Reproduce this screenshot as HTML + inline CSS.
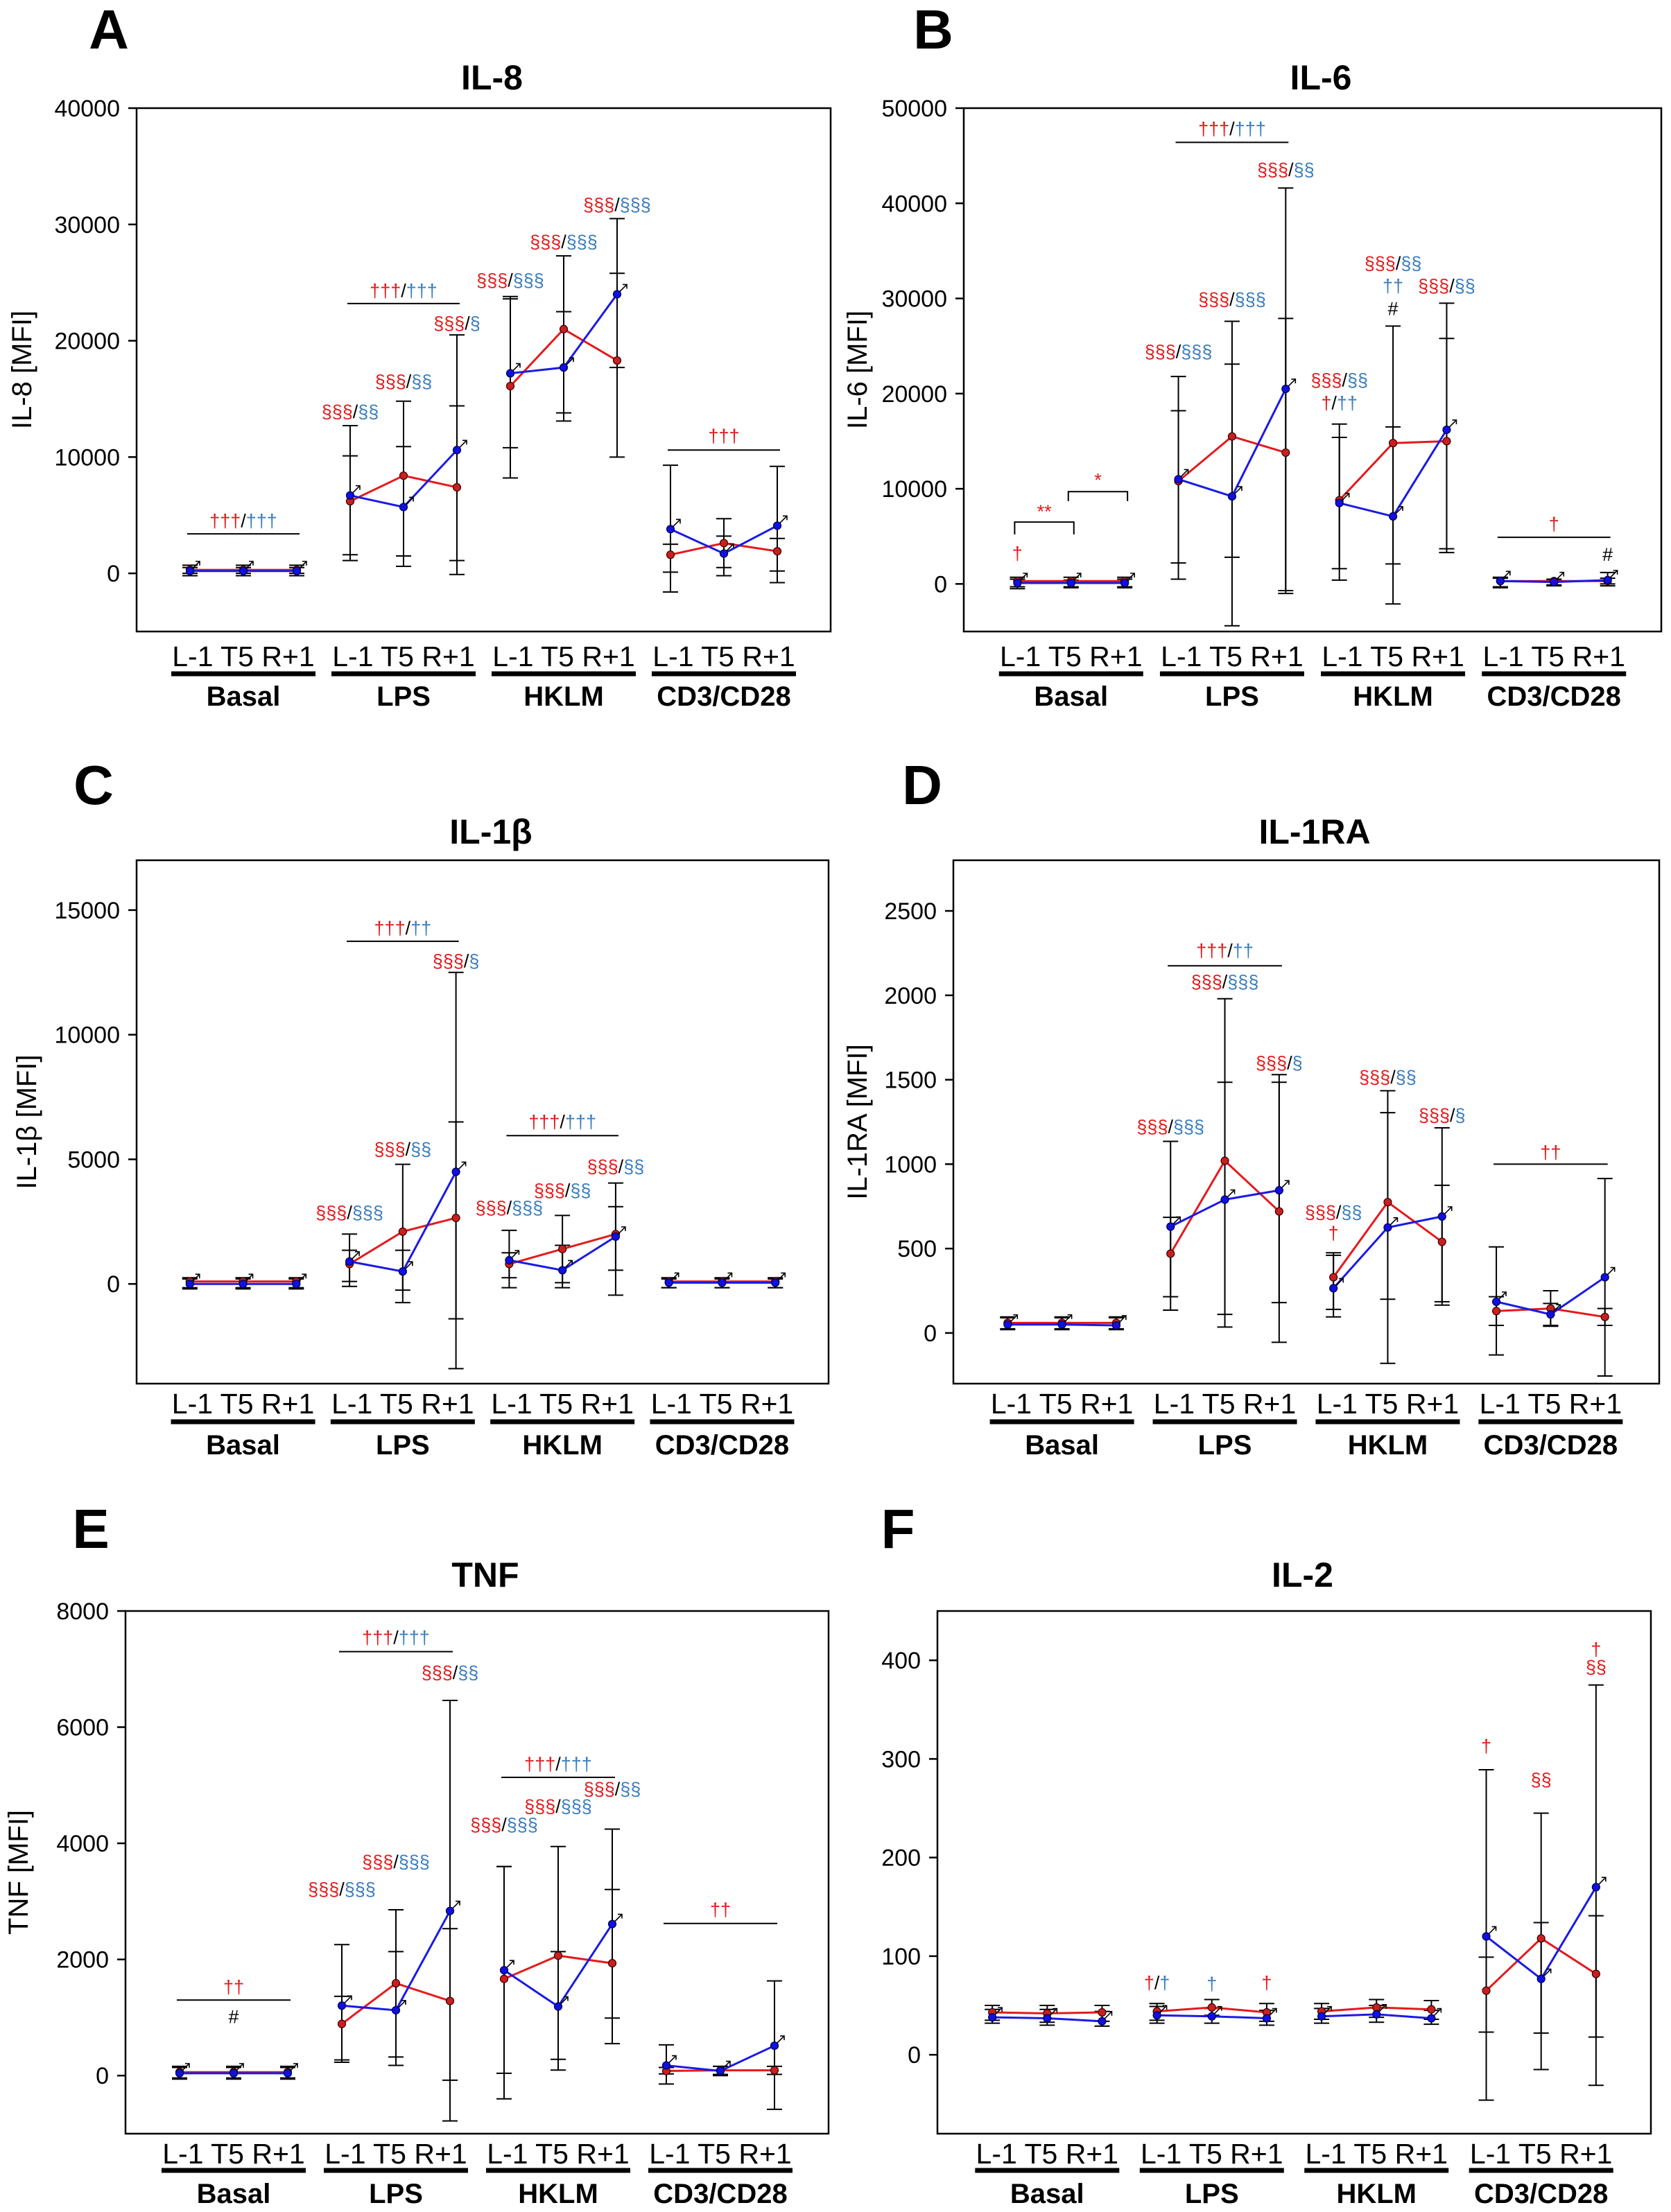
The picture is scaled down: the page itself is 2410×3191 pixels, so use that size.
<!DOCTYPE html>
<html><head><meta charset="utf-8">
<style>
html,body{margin:0;padding:0;background:#fff;}
svg{display:block;font-family:"Liberation Sans",Arial,sans-serif;}
</style></head>
<body>
<svg id="fig" xmlns="http://www.w3.org/2000/svg" width="2410" height="3191" viewBox="0 0 2410 3191">
<rect x="0" y="0" width="2410" height="3191" fill="#fff"/>
</svg>
<script>
// ---------- shared categories ----------
const timepoints = ["L-1", "T5", "R+1"];
const groups = ["Basal", "LPS", "HKLM", "CD3/CD28"];

// ---------- Panel A: IL-8 ----------
const aTicks = [0, 10000, 20000, 30000, 40000];
const aRed = [300, 300, 300, 6200, 8400, 7400, 16100, 21000, 18300, 1600, 2600, 1900];
const aBlue = [200, 200, 200, 6700, 5700, 10600, 17200, 17700, 24000, 3800, 1700, 4100];
const aRedLo = [0, 0, 0, 1600, 1500, -100, 8200, 13800, 10000, 100, 500, 200];
const aRedHi = [700, 700, 700, 10100, 14800, 14400, 23800, 27300, 25800, 2500, 4700, 3000];
const aBlueLo = [-200, -200, -200, 1100, 600, 1100, 10800, 13100, 17700, -1600, -200, -800];
const aBlueHi = [500, 500, 500, 12700, 10900, 20500, 23600, 22500, 30500, 9300, 3200, 9200];

// ---------- Panel B: IL-6 ----------
const bTicks = [0, 10000, 20000, 30000, 40000, 50000];
const bRed = [300, 300, 300, 10800, 15500, 13800, 8800, 14800, 15000, 300, 300, 300];
const bBlue = [100, 100, 100, 11000, 9200, 20500, 8500, 7100, 16200, 300, 200, 400];
const bRedLo = [-300, -300, -300, 500, 2800, -700, 400, 2100, 3700, -300, -100, -200];
const bRedHi = [700, 700, 700, 21800, 27600, 27900, 16800, 27100, 25800, 600, 500, 600];
const bBlueLo = [-500, -400, -400, 2200, -4400, -1000, 1600, -2100, 3300, -400, -200, 0];
const bBlueHi = [500, 400, 500, 18200, 23100, 41600, 15400, 16500, 29500, 700, 400, 1200];

// ---------- Panel C: IL-1beta ----------
const cTicks = [0, 5000, 10000, 15000];
const cRed = [100, 100, 100, 800, 2100, 2650, 800, 1400, 2000, 100, 100, 100];
const cBlue = [0, 0, 0, 900, 500, 4500, 950, 550, 1900, 50, 50, 50];
const cRedLo = [-150, -150, -150, -100, -750, -1400, -150, 50, -450, -150, -150, -150];
const cRedHi = [250, 250, 250, 2000, 4800, 6500, 2150, 2750, 4050, 250, 250, 250];
const cBlueLo = [-200, -200, -200, 100, -250, -3400, 250, -150, 550, -150, -150, -150];
const cBlueHi = [200, 200, 200, 1350, 1350, 12500, 1250, 1550, 3100, 200, 200, 200];

// ---------- Panel D: IL-1RA ----------
const dTicks = [0, 500, 1000, 1500, 2000, 2500];
const dRed = [60, 60, 60, 470, 1020, 720, 330, 775, 540, 130, 145, 95];
const dBlue = [50, 50, 45, 630, 790, 845, 265, 625, 690, 185, 110, 330];
const dRedLo = [25, 25, 25, 215, 35, -55, 140, 200, 185, 45, 40, 45];
const dRedHi = [95, 95, 95, 685, 1980, 1485, 475, 1305, 875, 215, 250, 145];
const dBlueLo = [20, 20, 20, 135, 110, 180, 95, -180, 165, -130, 45, -255];
const dBlueHi = [90, 90, 90, 1135, 1485, 1530, 460, 1435, 1215, 510, 175, 915];

// ---------- Panel E: TNF ----------
const eTicks = [0, 2000, 4000, 6000, 8000];
const eRed = [60, 60, 60, 890, 1590, 1285, 1665, 2065, 1935, 80, 90, 90];
const eBlue = [40, 40, 40, 1205, 1125, 2835, 1815, 1190, 2610, 175, 80, 515];
const eRedLo = [-40, -40, -40, 270, 320, -80, -400, 95, 550, 30, 20, 20];
const eRedHi = [160, 160, 160, 1365, 2855, 2530, 3600, 3945, 3205, 140, 160, 160];
const eBlueLo = [-60, -60, -60, 230, 175, -780, 40, 280, 990, -145, 0, -580];
const eBlueHi = [140, 140, 140, 2255, 2135, 6460, 3600, 2135, 4245, 530, 160, 1630];

// ---------- Panel F: IL-2 ----------
const fTicks = [0, 100, 200, 300, 400];
const fRed = [43, 42, 43, 44, 48, 43, 44, 48, 46, 65, 118, 82];
const fBlue = [38, 37, 34, 40, 39, 37, 39, 41, 37, 120, 77, 170];
const fRedLo = [35, 33, 34, 35, 40, 34, 36, 38, 36, 23, -15, 18];
const fRedHi = [50, 50, 50, 52, 56, 52, 52, 56, 55, 99, 245, 141];
const fBlueLo = [32, 30, 29, 32, 32, 30, 32, 33, 31, -46, 22, -31];
const fBlueHi = [46, 46, 44, 49, 47, 45, 47, 50, 45, 289, 134, 375];

// ---------- Annotations: [pointIndex, value, text parts "r:..|b:..|k:.."] ----------
const aNotes = [[4, 24300, "r:†††|k:/|b:†††"], [1, 4500, "r:†††|k:/|b:†††"], [3, 13900, "r:§§§|k:/|b:§§"], [4, 16500, "r:§§§|k:/|b:§§"], [5, 21500, "r:§§§|k:/|b:§"], [6, 25200, "r:§§§|k:/|b:§§§"], [7, 28500, "r:§§§|k:/|b:§§§"], [8, 31700, "r:§§§|k:/|b:§§§"], [10, 11800, "r:†††"]];
const aLines = [[0, 2, 3400], [3, 5, 23200], [9, 11, 10600]];
const bNotes = [[0, 3200, "r:†"], [0.5, 7600, "r:**"], [1.5, 10900, "r:*"], [4, 47800, "r:†††|k:/|b:†††"], [3, 24400, "r:§§§|k:/|b:§§§"], [4, 29900, "r:§§§|k:/|b:§§§"], [5, 43500, "r:§§§|k:/|b:§§"], [6, 21400, "r:§§§|k:/|b:§§"], [6, 19000, "r:†|k:/|b:††"], [7, 33700, "r:§§§|k:/|b:§§"], [7, 31300, "b:††"], [7, 28900, "k:#"], [8, 31300, "r:§§§|k:/|b:§§"], [10, 6300, "r:†"], [11, 3100, "k:#"]];
const bLines = [[3, 5, 46400], [9, 11, 4900]];
const bBrackets = [[0, 1, 6500, 5200], [1, 2, 9700, 8700]];
const cNotes = [[4, 14270, "r:†††|k:/|b:††"], [3, 2850, "r:§§§|k:/|b:§§§"], [4, 5400, "r:§§§|k:/|b:§§"], [5, 12950, "r:§§§|k:/|b:§"], [7, 6500, "r:†††|k:/|b:†††"], [6, 3050, "r:§§§|k:/|b:§§§"], [7, 3750, "r:§§§|k:/|b:§§"], [8, 4700, "r:§§§|k:/|b:§§"]];
const cLines = [[3, 5, 13750], [6, 8, 5950]];
const dNotes = [[4, 2265, "r:†††|k:/|b:††"], [4, 2080, "r:§§§|k:/|b:§§§"], [3, 1222, "r:§§§|k:/|b:§§§"], [5, 1600, "r:§§§|k:/|b:§"], [6, 715, "r:§§§|k:/|b:§§"], [6, 590, "r:†"], [7, 1515, "r:§§§|k:/|b:§§"], [8, 1290, "r:§§§|k:/|b:§"], [10, 1070, "r:††"]];
const dLines = [[3, 5, 2175], [9, 11, 1000]];
const eNotes = [[1, 1525, "r:††"], [1, 1010, "k:#"], [4, 7540, "r:†††|k:/|b:†††"], [3, 3210, "r:§§§|k:/|b:§§§"], [4, 3680, "r:§§§|k:/|b:§§§"], [5, 6935, "r:§§§|k:/|b:§§"], [7, 5360, "r:†††|k:/|b:†††"], [6, 4320, "r:§§§|k:/|b:§§§"], [7, 4635, "r:§§§|k:/|b:§§§"], [8, 4935, "r:§§§|k:/|b:§§"], [10, 2855, "r:††"]];
const eLines = [[0, 2, 1300], [3, 5, 7300], [6, 8, 5135], [9, 11, 2620]];
const fNotes = [[3, 73, "r:†|k:/|b:†"], [4, 72, "b:†"], [5, 73, "r:†"], [9, 313, "r:†"], [10, 279, "r:§§"], [11, 411, "r:†"], [11, 393, "r:§§"]];
const fLines = [];

const NS = "http://www.w3.org/2000/svg";
const svg = document.getElementById("fig");
const RED = "#e41a1c", BLUE = "#1a1ae6", TBLUE = "#3b7dbd";

function mk(tag, attrs, parent) {
  const e = document.createElementNS(NS, tag);
  for (const k in attrs) e.setAttribute(k, attrs[k]);
  (parent || svg).appendChild(e);
  return e;
}

function panel(cfg) {
  const g = mk("g", {});
  
  
  const L = cfg.box[0], R = cfg.box[1], T = cfg.box[2], B = cfg.box[3];
  const yS = v => B - (v - cfg.ymin) / (cfg.ymax - cfg.ymin) * (B - T);
  const step = (R - L) / 13;
  const xS = i => L + (i + 1) * step;

  // letter
  const let_ = mk("text", {x: cfg.letter[0], y: cfg.letter[1], "font-size": 80, "font-weight": "bold", "text-anchor": "middle"}, g);
  let_.textContent = cfg.letterText;
  
  
  // title
  const ti = mk("text", {x: (L + R) / 2 + 12, y: cfg.titleY, "font-size": 50, "font-weight": "bold", "text-anchor": "middle"}, g);
  ti.textContent = cfg.title;
  
  
  // box
  const bx = mk("rect", {x: L, y: T, width: R - L, height: B - T, fill: "none", stroke: "#000", "stroke-width": 2.5}, g);
  
  
  // y ticks
  cfg.ticks.forEach(t => {
    const y = yS(t);
    const tk = mk("line", {x1: L - 12, x2: L, y1: y, y2: y, stroke: "#000", "stroke-width": 2.5}, g);
    
    
    const tl = mk("text", {x: L - 24, y: y + 12, "font-size": 34, "text-anchor": "end"}, g);
    tl.textContent = String(t);
    
    
  });
  // y title
  if (cfg.ylabel) {
    const cy = (T + B) / 2;
    const yt = mk("text", {x: cfg.ylabelX, y: cy, "font-size": 40, "text-anchor": "middle", transform: `rotate(-90 ${cfg.ylabelX} ${cy})`}, g);
    yt.textContent = cfg.ylabel;
    
    
  }
  // x labels
  groups.forEach((gn, gi) => {
    const cx = xS(gi * 3 + 1);
    const tl = mk("text", {x: cx, y: cfg.xlab[0], "font-size": 41, "text-anchor": "middle"}, g);
    tl.textContent = timepoints.join(" ");
    
    
    const ul = mk("rect", {x: cx - 104, y: cfg.xlab[1] - 3.5, width: 208, height: 7, fill: "#000"}, g);
    
    
    const gl = mk("text", {x: cx, y: cfg.xlab[2], "font-size": 40, "font-weight": "bold", "text-anchor": "middle"}, g);
    gl.textContent = gn;
    
    
  });
  // error bars
  function bars(lo, hi, name) {
    lo.forEach((v, i) => {
      const x = xS(i), y1 = yS(lo[i]), y2 = yS(hi[i]);
      const e = mk("path", {d: `M${x},${y1}V${y2}M${x - 11},${y1}H${x + 11}M${x - 11},${y2}H${x + 11}`, stroke: "#000", "stroke-width": 2, fill: "none"}, g);
      
      
    });
  }
  bars(cfg.redLo, cfg.redHi, 'red-error-bar');
  bars(cfg.blueLo, cfg.blueHi, 'blue-error-bar');
  // lines
  function series(vals, color, name) {
    for (let gi = 0; gi < 4; gi++) {
      const pts = [0, 1, 2].map(k => `${xS(gi * 3 + k)},${yS(vals[gi * 3 + k])}`).join(" ");
      const pl = mk("polyline", {points: pts, fill: "none", stroke: color, "stroke-width": 3}, g);
      
      
    }
  }
  series(cfg.red, RED, 'red-series');
  series(cfg.blue, BLUE, 'blue-series');
  cfg.red.forEach((v, i) => {
    const c = mk("circle", {cx: xS(i), cy: yS(v), r: 5.5, fill: "#c8201f", stroke: "#3a0000", "stroke-width": 1.2}, g);
    
    
  });
  cfg.blue.forEach((v, i) => {
    const x = xS(i), y = yS(v);
    const c = mk("circle", {cx: x, cy: y, r: 5.5, fill: "#1010e0", stroke: "#000050", "stroke-width": 1.2}, g);
    
    
    const ar = mk("path", {d: `M${x + 4},${y - 4}L${x + 14},${y - 14}M${x + 8},${y - 14}H${x + 14}V${y - 8}`, stroke: "#000", "stroke-width": 1.6, fill: "none"}, g);
    
    
  });
  // significance lines
  cfg.lines.forEach(l => {
    const ln = mk("line", {x1: xS(l[0]) - 4, x2: xS(l[1]) + 4, y1: yS(l[2]), y2: yS(l[2]), stroke: "#000", "stroke-width": 2}, g);
    
    
  });
  (cfg.brackets || []).forEach(b => {
    const x1 = xS(b[0]) - 4, x2 = xS(b[1]) + 4, y = yS(b[2]), y2 = yS(b[3]);
    const br = mk("path", {d: `M${x1},${y2}V${y}H${x2}V${y2}`, stroke: "#000", "stroke-width": 2, fill: "none"}, g);
    
    
  });
  // notes
  cfg.notes.forEach(n => {
    const t = mk("text", {x: xS(n[0]), y: yS(n[1]) + 9, "font-size": 27, "text-anchor": "middle"}, g);
    
    
    n[2].split("|").forEach(p => {
      const [c, s] = [p[0], p.slice(2)];
      const ts = mk("tspan", {fill: c === "r" ? RED : c === "b" ? TBLUE : "#000"}, t);
      ts.textContent = s;
    });
  });
}

panel({id: "il8", letterText: "A", title: "IL-8", box: [197, 1198, 156, 911], ymin: -5000, ymax: 40000, ticks: aTicks,
  red: aRed, blue: aBlue, redLo: aRedLo, redHi: aRedHi, blueLo: aBlueLo, blueHi: aBlueHi,
  notes: aNotes, lines: aLines, letter: [157, 70], titleY: 129, ylabel: "IL-8 [MFI]", ylabelX: 45, xlab: [961, 972, 1018]});
panel({id: "il6", letterText: "B", title: "IL-6", box: [1390, 2396, 156, 911], ymin: -5000, ymax: 50000, ticks: bTicks,
  red: bRed, blue: bBlue, redLo: bRedLo, redHi: bRedHi, blueLo: bBlueLo, blueHi: bBlueHi,
  notes: bNotes, lines: bLines, brackets: bBrackets, letter: [1346, 70], titleY: 129, ylabel: "IL-6 [MFI]", ylabelX: 1250, xlab: [961, 972, 1018]});
panel({id: "il1b", letterText: "C", title: "IL-1β", box: [197, 1195, 1241, 1996], ymin: -4000, ymax: 17000, ticks: cTicks,
  red: cRed, blue: cBlue, redLo: cRedLo, redHi: cRedHi, blueLo: cBlueLo, blueHi: cBlueHi,
  notes: cNotes, lines: cLines, letter: [135, 1160], titleY: 1217, ylabel: "IL-1β [MFI]", ylabelX: 52, xlab: [2039, 2051, 2098]});
panel({id: "il1ra", letterText: "D", title: "IL-1RA", box: [1375, 2393, 1241, 1996], ymin: -300, ymax: 2800, ticks: dTicks,
  red: dRed, blue: dBlue, redLo: dRedLo, redHi: dRedHi, blueLo: dBlueLo, blueHi: dBlueHi,
  notes: dNotes, lines: dLines, letter: [1330, 1160], titleY: 1217, ylabel: "IL-1RA [MFI]", ylabelX: 1250, xlab: [2039, 2051, 2098]});
panel({id: "tnf", letterText: "E", title: "TNF", box: [181, 1195, 2324, 3078], ymin: -1000, ymax: 8000, ticks: eTicks,
  red: eRed, blue: eBlue, redLo: eRedLo, redHi: eRedHi, blueLo: eBlueLo, blueHi: eBlueHi,
  notes: eNotes, lines: eLines, letter: [131, 2233], titleY: 2289, ylabel: "TNF [MFI]", ylabelX: 40, xlab: [3121, 3131, 3178]});
panel({id: "il2", letterText: "F", title: "IL-2", box: [1352, 2381, 2324, 3078], ymin: -80, ymax: 450, ticks: fTicks,
  red: fRed, blue: fBlue, redLo: fRedLo, redHi: fRedHi, blueLo: fBlueLo, blueHi: fBlueHi,
  notes: fNotes, lines: fLines, letter: [1295, 2233], titleY: 2289, ylabel: null, ylabelX: 0, xlab: [3121, 3131, 3178]});
</script>
</body></html>
